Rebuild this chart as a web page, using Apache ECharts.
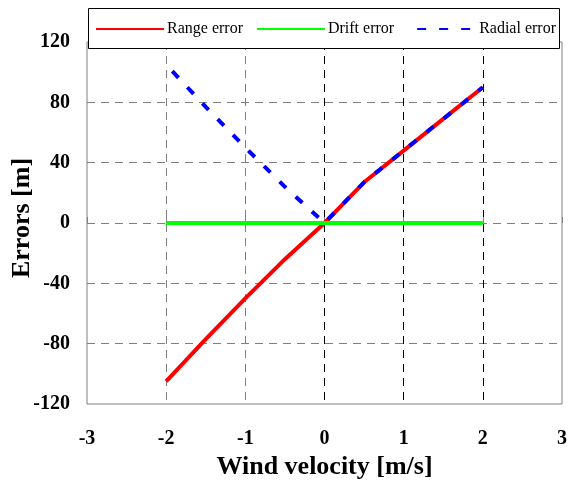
<!DOCTYPE html>
<html>
<head>
<meta charset="utf-8">
<script src="https://cdn.jsdelivr.net/npm/echarts@6/dist/echarts.min.js"></script>
<style>
  html, body { margin: 0; padding: 0; background: #fff; }
  #chart { width: 568px; height: 487px; }
</style>
</head>
<body>
<div id="chart"></div>
<script>
// Wind velocity samples [m/s]
const windVelocity = [-2, -1.5, -1, -0.5, 0, 0.5, 1, 1.5, 2];
// Errors [m]
const rangeError  = [-105, -77, -50, -24, 0, 27, 48, 69, 90];
const driftError  = [0, 0, 0, 0, 0, 0, 0, 0, 0];
const radialError = [105, 77, 50, 24, 0, 27, 48, 69, 90];

const xTicks = [-3, 3, 1];      // min, max, interval
const yTicks = [-120, 120, 40]; // min, max, interval

const pairs = (ys) => windVelocity.map((x, i) => [x, ys[i]]);
const serif = '"Liberation Serif", "DejaVu Serif", serif';

const chart = echarts.init(document.getElementById('chart'), null, { renderer: 'canvas' });

chart.setOption({
  animation: false,
  backgroundColor: '#ffffff',
  grid: {
    left: 87, right: 6, top: 42, bottom: 83,
    outerBoundsMode: 'none',
    containLabel: false,
    show: true, borderColor: '#808080', borderWidth: 1,
    backgroundColor: 'transparent'
  },
  xAxis: {
    type: 'value',
    min: xTicks[0], max: xTicks[1], interval: xTicks[2],
    name: 'Wind velocity [m/s]',
    nameLocation: 'middle',
    nameGap: 50,
    nameMoveOverlap: false,
    nameTextStyle: { fontFamily: serif, fontWeight: 'bold', fontSize: 26, color: '#000' },
    axisLine: { show: false },
    axisTick: { show: true, inside: true, length: 6, lineStyle: { color: '#808080', width: 1 } },
    axisLabel: { margin: 25, fontFamily: serif, fontWeight: 'bold', fontSize: 20, color: '#000' },
    splitLine: {
      show: true,
      showMinLine: false,
      showMaxLine: false,
      lineStyle: {
        // negative velocities in grey, zero and positive in black
        color: ['#808080', '#808080', '#000000', '#000000', '#000000'],
        type: [8, 6], width: 1
      }
    }
  },
  yAxis: {
    type: 'value',
    min: yTicks[0], max: yTicks[1], interval: yTicks[2],
    name: 'Errors [m]',
    nameLocation: 'middle',
    nameGap: 52,
    nameRotate: 90,
    nameMoveOverlap: false,
    nameTextStyle: { fontFamily: serif, fontWeight: 'bold', fontSize: 26, color: '#000', padding: [0, 0, 0, 10] },
    axisLine: { show: false },
    axisTick: { show: false },
    axisLabel: { margin: 17, fontFamily: serif, fontWeight: 'bold', fontSize: 20, color: '#000' },
    splitLine: {
      show: true,
      showMinLine: false,
      showMaxLine: false,
      lineStyle: { color: '#808080', type: [8, 6], width: 1 }
    }
  },
  graphic: [{
    type: 'rect',
    z: 100,
    shape: { x: 88.5, y: 8.5, width: 471, height: 40 },
    style: { fill: '#ffffff', stroke: '#000000', lineWidth: 1 }
  }],
  legend: {
    z: 120,
    left: 95, top: 21,
    padding: 0,
    itemGap: 13,
    itemWidth: 68,
    itemHeight: 14,
    itemStyle: { opacity: 0 },
    textStyle: { fontFamily: serif, fontSize: 16, color: '#000', padding: [0, 0, 0, -2] },
    data: ['Range error', 'Drift error', 'Radial error']
  },
  series: [
    {
      name: 'Range error', type: 'line', data: pairs(rangeError),
      symbol: 'none', z: 3,
      lineStyle: { color: '#ff0000', width: 4 }, itemStyle: { color: '#ff0000' }
    },
    {
      name: 'Drift error', type: 'line', data: pairs(driftError),
      symbol: 'none', z: 4,
      lineStyle: { color: '#00ff00', width: 4 }, itemStyle: { color: '#00ff00' }
    },
    {
      name: 'Radial error', type: 'line', data: pairs(radialError),
      symbol: 'none', z: 5,
      lineStyle: { color: '#0000ff', width: 4, type: [9, 13], dashOffset: 13 },
      itemStyle: { color: '#0000ff' }
    }
  ]
});
</script>
</body>
</html>
